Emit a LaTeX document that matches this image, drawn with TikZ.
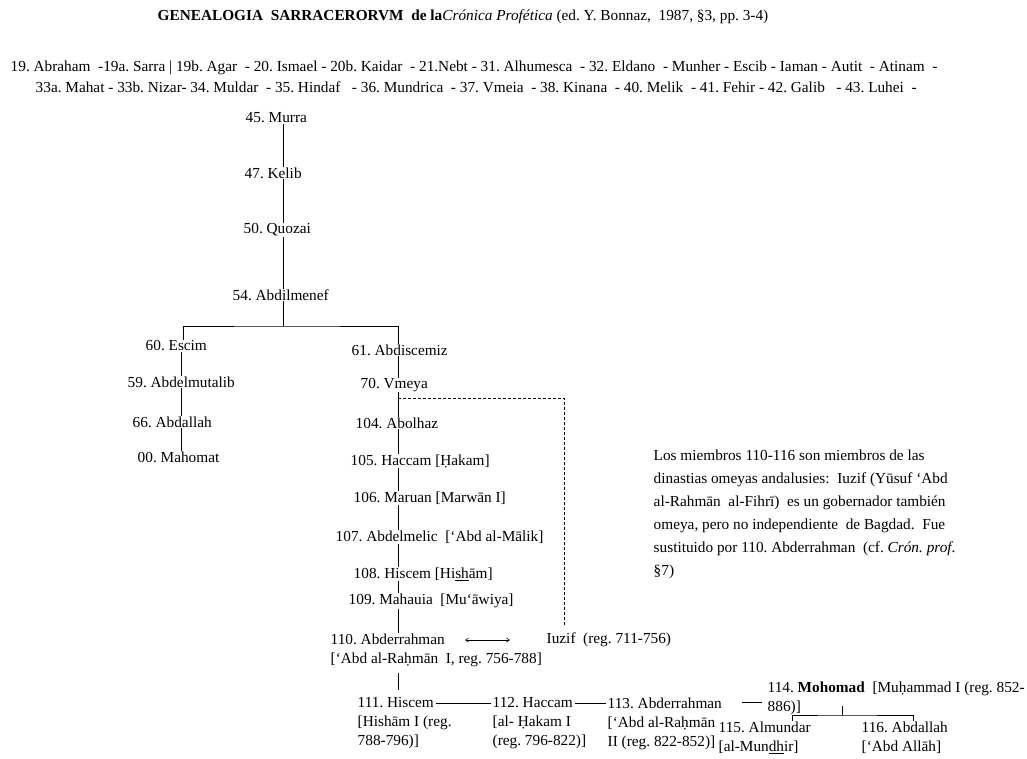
\documentclass[tikz,border=0pt]{standalone}
\usepackage{fontspec}
\setmainfont{Liberation Serif}
\usetikzlibrary{arrows.meta,calc}
\frenchspacing
\begin{document}
\begin{tikzpicture}[x=1pt,y=-1pt,
  every node/.style={inner sep=0.5pt, font=\fontsize{15.3}{19}\selectfont},
  lbl/.style={anchor=west},
  blk/.style={anchor=north west, align=left},
  conn/.style={line width=0.8pt, black},
  dconn/.style={line width=0.8pt, black, dash pattern=on 3pt off 2pt}]
\useasboundingbox (0,0) rectangle (1027,759);

% title and header
\node[lbl] (title) at (157,17) {\textbf{GENEALOGIA\ \ SARRACERORVM\ \ de la}\textit{Crónica Profética} (ed. Y. Bonnaz,\ \ 1987, §3, pp. 3-4)};
\node[lbl] (hdrA) at (10,68) {19. Abraham\ \ -19a. Sarra | 19b. Agar\ \ - 20. Ismael - 20b. Kaidar\ \ - 21.Nebt - 31. Alhumesca\ \ - 32. Eldano\ \ - Munher - Escib - Iaman - Autit\ \ - Atinam\ \ -};
\node[lbl] (hdrB) at (35,87) {33a. Mahat - 33b. Nizar- 34. Muldar\ \ - 35. Hindaf\ \ \ - 36. Mundrica\ \ - 37. Vmeia\ \ - 38. Kinana\ \ - 40. Melik\ \ - 41. Fehir - 42. Galib\ \ \ - 43. Luhei\ \ -};

% spine coordinates
\coordinate (spA) at (283,0);
\coordinate (spE) at (183,0);
\coordinate (spL) at (181,0);
\coordinate (spR) at (398,0);
\coordinate (dx) at (564,0);

% upper line
\node[lbl] (murra) at (245,118) {45. Murra};
\node[lbl] (kelib) at (244,173) {47. Kelib};
\node[lbl] (quozai) at (243,230) {50. Quozai};
\node[lbl] (abdil) at (232,295) {54. Abdilmenef};
\coordinate (br) at (283,326);

% left branch
\node[lbl] (escim) at (145,346) {60. Escim};
\node[lbl] (abdelm) at (127,382) {59. Abdelmutalib};
\node[lbl] (abdallah) at (132,422) {66. Abdallah};
\node[lbl] (mahomat) at (137,457) {00. Mahomat};

% right branch
\node[lbl] (abdisc) at (351,350) {61. Abdiscemiz};
\node[lbl] (vmeya) at (360,385) {70. Vmeya};
\node[lbl] (abolhaz) at (355,423) {104. Abolhaz};
\node[lbl] (haccam) at (350,461) {105. Haccam [Ḥakam]};
\node[lbl] (maruan) at (353,498) {106. Maruan [Marwān I]};
\node[lbl] (abdelmelic) at (335,537) {107. Abdelmelic\ \ [‘Abd al-Mālik]};
\node[lbl] (hiscem) at (353,574) {108. Hiscem [Hi\underline{sh}ām]};
\node[lbl] (mahauia) at (348,601) {109. Mahauia\ \ [Mu‘āwiya]};
\node[blk] (abderr) at (330,633) {110. Abderrahman\\\relax [‘Abd al-Raḥmān\ \ I, reg. 756-788]};
\node[lbl] (iuzif) at (546,640) {Iuzif\ \ (reg. 711-756)};
\coordinate (arL) at (465,640);
\coordinate (arR) at (510,640);

% bottom row
\node[blk] (h111) at (357,697) {111. Hiscem\\\relax [Hishām I (reg.\\ 788-796)]};
\node[blk] (h112) at (492,697) {112. Haccam\\\relax [al- Ḥakam I\\ (reg. 796-822)]};
\node[blk] (h113) at (607,697) {113. Abderrahman\\\relax [‘Abd al-Raḥmān\\ II (reg. 822-852)]};
\node[blk] (h114) at (767,681) {114. \textbf{Mohomad}\ \ [Muḥammad I (reg. 852-\\ 886)]};
\node[blk] (h115) at (718,721) {115. Almundar\\\relax [al-Mun\underline{dh}ir]};
\node[blk] (h116) at (861,721) {116. Abdallah\\\relax [‘Abd Allāh]};
\coordinate (t114) at (842,706);
\coordinate (jn) at (842,715);
\coordinate (x115) at (792,0);
\coordinate (x116) at (913,0);
\coordinate (dj) at (398,398);
\coordinate (c111) at ($(h111.north west)+(79,6)$);
\coordinate (c112) at ($(h112.north west)+(83,6)$);
\coordinate (c113) at ($(h113.north west)+(135,5)$);

% note
\node[anchor=north west, align=left, font=\fontsize{15.3}{23}\selectfont] (note) at (653,449)
 {Los miembros 110-116 son miembros de las\\
  dinastias omeyas andalusies:\ \ Iuzif (Yūsuf ‘Abd\\
  al-Rahmān\ \ al-Fihrī)\ \ es un gobernador también\\
  omeya, pero no independiente\ \ de Bagdad.\ \ Fue\\
  sustituido por 110. Abderrahman\ \ (cf. \textit{Crón. prof}.\\
  §7)};

% connectors: upper spine
\draw[conn] (murra.south -| spA) -- (kelib.north -| spA);
\draw[conn] (kelib.south -| spA) -- (quozai.north -| spA);
\draw[conn] (quozai.south -| spA) -- (abdil.north -| spA);
\draw[conn] (abdil.south -| spA) -- (br);
\draw[conn] (escim.north -| spE) |- (br) -| (abdisc.north -| spR);

% left
\draw[conn] (escim.south -| spL) -- (abdelm.north -| spL);
\draw[conn] (abdelm.south -| spL) -- (abdallah.north -| spL);
\draw[conn] (abdallah.south -| spL) -- (mahomat.north -| spL);

% right
\draw[conn] (abdisc.south -| spR) -- (vmeya.north -| spR);
\draw[conn] (vmeya.south -| spR) -- (abolhaz.north -| spR);
\draw[conn] (abolhaz.south -| spR) -- (haccam.north -| spR);
\draw[conn] (haccam.south -| spR) -- (maruan.north -| spR);
\draw[conn] (maruan.south -| spR) -- (abdelmelic.north -| spR);
\draw[conn] (abdelmelic.south -| spR) -- (hiscem.north -| spR);
\draw[conn] (hiscem.south -| spR) -- (mahauia.north -| spR);
\draw[conn] (mahauia.south -| spR) -- (abderr.north -| spR);
\draw[dconn, shorten >=7pt] (dj) -| (iuzif.north -| dx);
\draw[line width=0.6pt, {Straight Barb[length=3pt,width=4pt]}-{Straight Barb[length=3pt,width=4pt]}] (arL) -- (arR);

% bottom
\draw[conn, shorten <=6pt, shorten >=7pt] (abderr.south -| spR) -- (h111.north -| spR);
\draw[conn, shorten >=1pt] (c111) -- (c111 -| h112.west);
\draw[conn, shorten >=1pt] (c112) -- (c112 -| h113.west);
\draw[conn, shorten >=5pt] (c113) -- (c113 -| h114.west);
\draw[conn] (t114) -- (jn);
\draw[conn] (h115.north -| x115) |- (jn) -| (h116.north -| x116);
\end{tikzpicture}
\end{document}
